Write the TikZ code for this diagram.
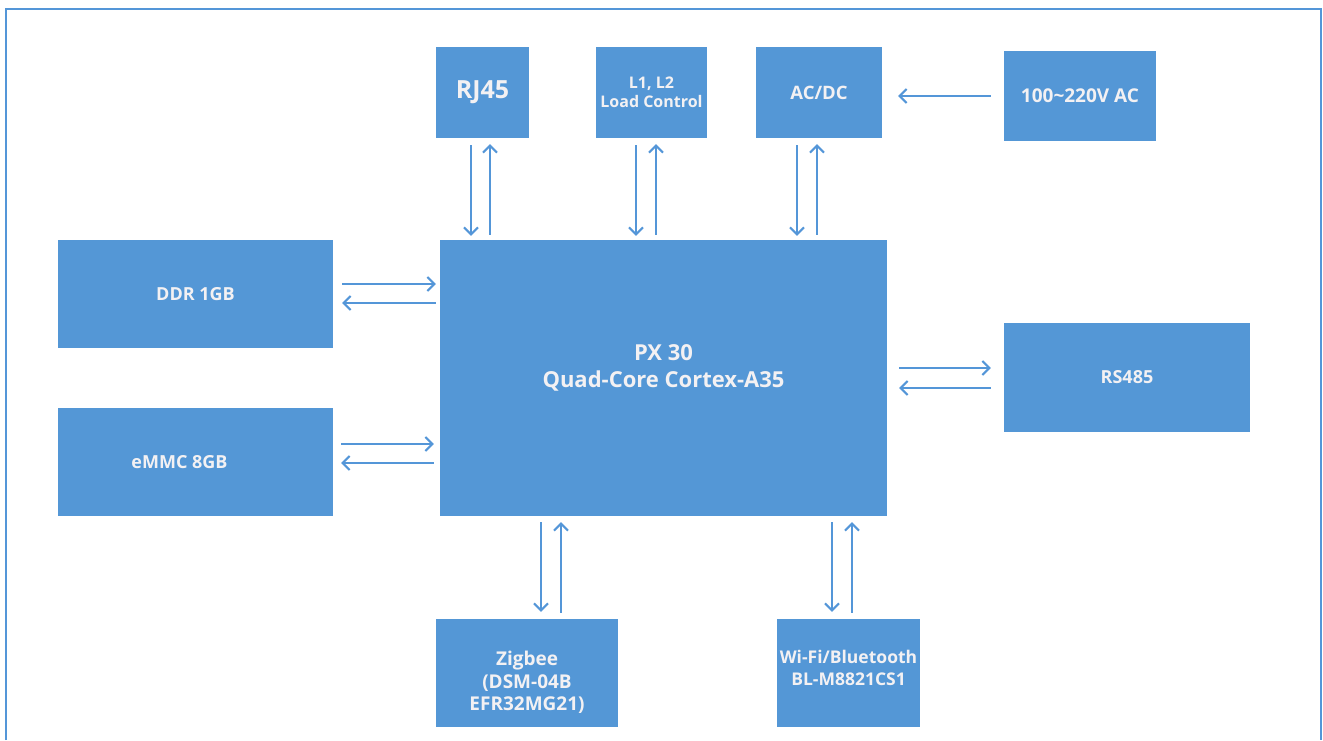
\documentclass[tikz,border=0pt]{standalone}
\usepackage{fontspec}
\setmainfont{Open Sans}
\definecolor{BlockColor}{RGB}{84,151,214}
\definecolor{LinkColor}{RGB}{84,150,216}
\definecolor{LabelColor}{RGB}{243,241,243}
\usetikzlibrary{positioning, arrows.meta, calc}
\tikzstyle{block} = [fill=BlockColor, text=LabelColor, align=center, inner sep=0pt]
\tikzstyle{arrow} = [line width=2pt, LinkColor, -{Straight Barb[length=7pt,width=14pt]}]
\newcommand{\pxfont}[2]{\bfseries\fontsize{#1}{#2}\selectfont}

\begin{document}
\begin{tikzpicture}[x=1pt, y=-1pt]
    \useasboundingbox (0,0) rectangle (1323,740);
    % Frame
    \draw[LinkColor, line width=2pt] (6,740) -- (6,9) -- (1321,9) -- (1321,740);

    % Processor
    \node[block, minimum width=447pt, minimum height=276pt, font=\pxfont{22}{27}] (px) at (663.5,378)
        {\raisebox{4pt}[0pt][0pt]{\begin{tabular}{@{}c@{}}PX 30\\Quad-Core Cortex-A35\end{tabular}}};

    % Top row
    \node[block, minimum width=93pt, minimum height=91pt, font=\pxfont{25}{28}] (rj) at (482.5,92.5) {RJ45};
    \node[block, minimum width=111pt, minimum height=91pt, font=\pxfont{16}{19}] (load) at (651.5,92.5) {L1, L2\\Load Control};
    \node[block, minimum width=126pt, minimum height=91pt, font=\pxfont{18.5}{22}] (acdc) at (819,92.5) {AC/DC};
    \node[block, minimum width=152pt, minimum height=90pt, font=\pxfont{19}{23}] (ac) at (1080,96) {100\textasciitilde 220V AC};

    % Left column
    \node[block, minimum width=275pt, minimum height=108pt, font=\pxfont{18}{22}] (ddr) at (195.5,294) {DDR 1GB};
    \node[block, minimum width=275pt, minimum height=108pt, font=\pxfont{18}{22}] (emmc) at (195.5,462) {eMMC 8GB\hspace*{32pt}};

    % Right side
    \node[block, minimum width=246pt, minimum height=109pt, font=\pxfont{18}{22}] (rs) at (1127,377.5) {RS485};

    % Bottom row
    \node[block, minimum width=182pt, minimum height=108pt, font=\pxfont{19}{22.5}] (zig) at (527,673)
        {\raisebox{-15pt}[0pt][0pt]{\begin{tabular}{@{}c@{}}Zigbee\\(DSM-04B\\EFR32MG21)\end{tabular}}};
    \node[block, minimum width=143pt, minimum height=108pt, font=\pxfont{17.5}{22}] (wifi) at (848.5,673)
        {\raisebox{-1.5pt}[0pt][0pt]{\begin{tabular}{@{}c@{}}Wi-Fi/Bluetooth\\BL-M8821CS1\end{tabular}}};

    % Connections, top
    \draw[arrow] ($(rj.south)+(-11.5,7)$) -- ($(rj.south |- px.north)+(-11.5,-4)$);
    \draw[arrow] ($(rj.south |- px.north)+(7.5,-5)$) -- ($(rj.south)+(7.5,6)$);
    \draw[arrow] ($(load.south)+(-15.5,7)$) -- ($(load.south |- px.north)+(-15.5,-4)$);
    \draw[arrow] ($(load.south |- px.north)+(4.5,-5)$) -- ($(load.south)+(4.5,6)$);
    \draw[arrow] ($(acdc.south)+(-22,7)$) -- ($(acdc.south |- px.north)+(-22,-4)$);
    \draw[arrow] ($(acdc.south |- px.north)+(-2,-5)$) -- ($(acdc.south)+(-2,6)$);
    \draw[arrow] ($(ac.west)+(-13,0)$) -- ($(acdc.east |- ac.west)+(16,0)$);

    % Connections, left
    \draw[arrow] ($(ddr.east)+(9,-10)$) -- ($(ddr.east -| px.west)+(-4,-10)$);
    \draw[arrow] ($(ddr.east -| px.west)+(-4,9)$) -- ($(ddr.east)+(9,9)$);
    \draw[arrow] ($(emmc.east)+(8,-18)$) -- ($(emmc.east -| px.west)+(-6,-18)$);
    \draw[arrow] ($(emmc.east -| px.west)+(-6,1)$) -- ($(emmc.east)+(8,1)$);

    % Connections, right
    \draw[arrow] ($(rs.west -| px.east)+(12,-9.5)$) -- ($(rs.west)+(-13,-9.5)$);
    \draw[arrow] ($(rs.west)+(-13,10.5)$) -- ($(rs.west -| px.east)+(12,10.5)$);

    % Connections, bottom
    \draw[arrow] ($(zig.north |- px.south)+(14,6)$) -- ($(zig.north)+(14,-7)$);
    \draw[arrow] ($(zig.north)+(34,-6)$) -- ($(zig.north |- px.south)+(34,6)$);
    \draw[arrow] ($(wifi.north |- px.south)+(-16.5,6)$) -- ($(wifi.north)+(-16.5,-7)$);
    \draw[arrow] ($(wifi.north)+(3.5,-6)$) -- ($(wifi.north |- px.south)+(3.5,6)$);
\end{tikzpicture}
\end{document}
